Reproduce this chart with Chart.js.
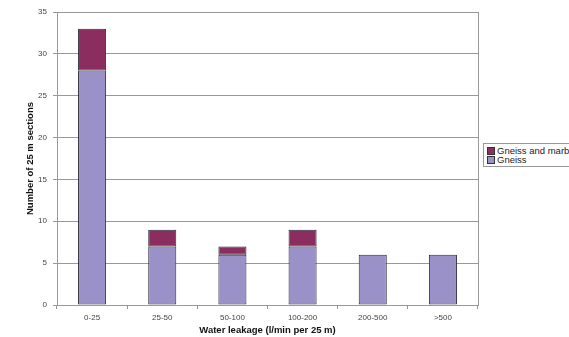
<!DOCTYPE html>
<html>
<head>
<meta charset="utf-8">
<script src="https://cdn.jsdelivr.net/npm/chart.js@4.4.1/dist/chart.umd.min.js"></script>
<style>
  html, body { margin: 0; padding: 0; background: #fff; overflow: hidden; }
  #wrap { position: relative; width: 569px; height: 337px; }
  #legend {
    position: absolute; left: 483px; top: 143px;
    border: 1px solid #999; background: #fff;
    padding: 2px 0 2px 3px; white-space: nowrap;
    font: 9.5px "Liberation Sans", Arial, sans-serif; color: #222;
  }
  #legend div { height: 9px; line-height: 9px; margin: 0; }
  #legend span.sw {
    display: inline-block; width: 6px; height: 6px;
    border: 1px solid #333; margin-right: 2px; vertical-align: -1px;
  }
</style>
</head>
<body>
<div id="wrap">
  <canvas id="chart"></canvas>
  <div id="legend"></div>
</div>
<script>
const categories = ['0-25', '25-50', '50-100', '100-200', '200-500', '>500'];
const gneiss = [28, 7, 6, 7, 6, 6];
const gneissMarble = [5, 2, 1, 2, 0, 0];
const yTicks = [0, 5, 10, 15, 20, 25, 30, 35];

const FONT = '"Liberation Sans", Arial, sans-serif';

// right-hand frame line of the plot area
const frameRight = {
  id: 'frameRight',
  afterDraw(chart) {
    const { ctx, chartArea } = chart;
    ctx.save();
    ctx.strokeStyle = '#999';
    ctx.lineWidth = 1;
    ctx.beginPath();
    ctx.moveTo(Math.round(chartArea.right) + 0.5, chartArea.top);
    ctx.lineTo(Math.round(chartArea.right) + 0.5, chartArea.bottom);
    ctx.stroke();
    ctx.restore();
  }
};

const chart = new Chart(document.getElementById('chart'), {
  type: 'bar',
  data: {
    labels: categories,
    datasets: [
      {
        label: 'Gneiss',
        data: gneiss,
        backgroundColor: '#9991c8',
        borderColor: '#2e2a3a',
        borderWidth: 1,
        borderSkipped: false
      },
      {
        label: 'Gneiss and marble',
        data: gneissMarble,
        backgroundColor: '#8c2d5f',
        borderColor: '#2e2a3a',
        borderWidth: 1,
        borderSkipped: false
      }
    ]
  },
  options: {
    responsive: true,
    maintainAspectRatio: false,
    animation: false,
    layout: { padding: { left: 21, right: 91, top: 12, bottom: 0 } },
    datasets: { bar: { categoryPercentage: 1, barPercentage: 0.4 } },
    plugins: {
      legend: { display: false },
      tooltip: { enabled: false }
    },
    scales: {
      x: {
        stacked: true,
        afterFit(scale) { scale.height = 32; },
        grid: { drawOnChartArea: false, drawTicks: true, tickLength: 4, color: '#999' },
        border: { color: '#999' },
        ticks: { color: '#444', font: { family: FONT, size: 8 }, padding: 4, maxRotation: 0 },
        title: {
          display: true,
          text: 'Water leakage (l/min per 25 m)',
          color: '#111',
          font: { family: FONT, size: 9.5, weight: 'bold' },
          padding: { top: 0, bottom: 1 }
        }
      },
      y: {
        stacked: true,
        min: 0,
        max: 35,
        afterFit(scale) { scale.width = 36; },
        afterBuildTicks(scale) { scale.ticks = yTicks.map(v => ({ value: v })); },
        grid: { color: '#999', tickLength: 4 },
        border: { color: '#999' },
        ticks: { color: '#444', font: { family: FONT, size: 8 }, padding: 6 },
        title: {
          display: true,
          text: 'Number of 25 m sections',
          color: '#111',
          font: { family: FONT, size: 9.5, weight: 'bold' },
          padding: { top: 4, bottom: 0 }
        }
      }
    }
  },
  plugins: [frameRight]
});

// legend box, top entry is the upper stack segment
const legend = document.getElementById('legend');
chart.data.datasets.slice().reverse().forEach(ds => {
  const row = document.createElement('div');
  const sw = document.createElement('span');
  sw.className = 'sw';
  sw.style.background = ds.backgroundColor;
  row.appendChild(sw);
  row.appendChild(document.createTextNode(ds.label));
  legend.appendChild(row);
});
</script>
</body>
</html>
